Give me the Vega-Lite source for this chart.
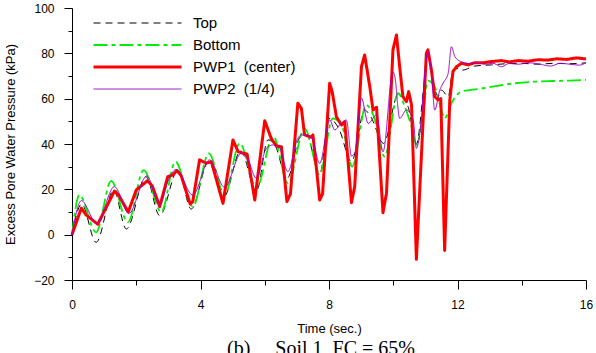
{
  "$schema": "https://vega.github.io/schema/vega-lite/v6.json",
  "autosize": {"type": "none"},
  "padding": {"left": 72, "top": 8, "right": 10, "bottom": 73},
  "width": 514,
  "height": 272,
  "background": "white",
  "config": {
    "view": {"stroke": null},
    "font": "Liberation Sans",
    "axis": {"grid": false, "domainColor": "black", "tickColor": "black", "labelColor": "black", "titleColor": "black", "labelFont": "Liberation Sans", "titleFont": "Liberation Sans", "labelFontSize": 12, "titleFontSize": 13, "titleFontWeight": "normal", "domainWidth": 1, "tickWidth": 1}
  },
  "title": {"text": "(b)\u00a0\u00a0\u00a0\u00a0\u00a0Soil 1, FC = 65%", "orient": "bottom", "font": "Liberation Serif", "fontSize": 20, "fontWeight": "normal", "color": "black", "offset": 4, "dx": -8, "anchor": "middle"},
  "data": {"values": [
    {"s":"Top","t":0,"v":0},{"s":"Top","t":0.3,"v":13.5},{"s":"Top","t":0.75,"v":-3.4},{"s":"Top","t":1.3,"v":19.7},{"s":"Top","t":1.69,"v":2.5},{"s":"Top","t":2.3,"v":25.6},{"s":"Top","t":2.73,"v":8.4},{"s":"Top","t":3.3,"v":28.5},{"s":"Top","t":3.71,"v":11.3},{"s":"Top","t":4.25,"v":32},{"s":"Top","t":4.72,"v":16.5},{"s":"Top","t":5.25,"v":37},{"s":"Top","t":5.74,"v":19},{"s":"Top","t":6.1,"v":41.8},{"s":"Top","t":6.3,"v":40},{"s":"Top","t":6.7,"v":24.9},{"s":"Top","t":7.1,"v":43},{"s":"Top","t":7.3,"v":44},{"s":"Top","t":7.71,"v":26.3},{"s":"Top","t":8.0,"v":51.3},{"s":"Top","t":8.3,"v":47},{"s":"Top","t":8.7,"v":32.2},{"s":"Top","t":9.11,"v":55},{"s":"Top","t":9.3,"v":52},{"s":"Top","t":9.7,"v":40.3},{"s":"Top","t":10.15,"v":61.6},{"s":"Top","t":10.46,"v":56.5},{"s":"Top","t":10.72,"v":40},{"s":"Top","t":11.03,"v":72.6},{"s":"Top","t":11.1,"v":74},{"s":"Top","t":11.4,"v":60.9},{"s":"Top","t":11.5,"v":63.8},{"s":"Top","t":11.71,"v":60.9},{"s":"Top","t":11.86,"v":72.6},{"s":"Top","t":12.07,"v":73.4},{"s":"Top","t":12.15,"v":72.6},{"s":"Top","t":12.54,"v":74.4},{"s":"Top","t":13.06,"v":74.9},{"s":"Top","t":13.5,"v":75.4},{"s":"Top","t":14,"v":75.6},{"s":"Top","t":14.5,"v":75.2},{"s":"Top","t":15,"v":75.6},{"s":"Top","t":15.5,"v":75.4},{"s":"Top","t":16,"v":75.8},
    {"s":"Bottom","t":0,"v":0},{"s":"Bottom","t":0.23,"v":17.5},{"s":"Bottom","t":0.75,"v":1},{"s":"Bottom","t":1.22,"v":23.7},{"s":"Bottom","t":1.74,"v":5.5},{"s":"Bottom","t":2.23,"v":28.5},{"s":"Bottom","t":2.78,"v":10},{"s":"Bottom","t":3.22,"v":32.2},{"s":"Bottom","t":3.76,"v":12.4},{"s":"Bottom","t":4.26,"v":35.9},{"s":"Bottom","t":4.75,"v":17.5},{"s":"Bottom","t":5.22,"v":40.3},{"s":"Bottom","t":5.74,"v":20.5},{"s":"Bottom","t":6.26,"v":43.5},{"s":"Bottom","t":6.72,"v":22.7},{"s":"Bottom","t":7.24,"v":46.9},{"s":"Bottom","t":7.71,"v":27.1},{"s":"Bottom","t":8.12,"v":51.3},{"s":"Bottom","t":8.4,"v":48},{"s":"Bottom","t":8.72,"v":30},{"s":"Bottom","t":9.16,"v":57.2},{"s":"Bottom","t":9.4,"v":52},{"s":"Bottom","t":9.73,"v":34.4},{"s":"Bottom","t":10.15,"v":62.4},{"s":"Bottom","t":10.36,"v":56.5},{"s":"Bottom","t":10.57,"v":47.6},{"s":"Bottom","t":10.72,"v":39.6},{"s":"Bottom","t":10.93,"v":53.6},{"s":"Bottom","t":11.08,"v":68},{"s":"Bottom","t":11.29,"v":65.3},{"s":"Bottom","t":11.5,"v":55},{"s":"Bottom","t":11.6,"v":51.3},{"s":"Bottom","t":11.81,"v":58},{"s":"Bottom","t":12.12,"v":63.1},{"s":"Bottom","t":12.38,"v":63.8},{"s":"Bottom","t":12.8,"v":64.6},{"s":"Bottom","t":13.37,"v":66},{"s":"Bottom","t":13.8,"v":66.8},{"s":"Bottom","t":14.4,"v":67.5},{"s":"Bottom","t":15,"v":67.8},{"s":"Bottom","t":15.5,"v":68},{"s":"Bottom","t":16,"v":68.3},
    {"s":"PWP1","t":0,"v":0},{"s":"PWP1","t":0.29,"v":11.7},{"s":"PWP1","t":0.44,"v":8.7},{"s":"PWP1","t":0.8,"v":4.6},{"s":"PWP1","t":1.32,"v":19.2},{"s":"PWP1","t":1.45,"v":17.5},{"s":"PWP1","t":1.75,"v":10},{"s":"PWP1","t":2.0,"v":19.7},{"s":"PWP1","t":2.35,"v":23.8},{"s":"PWP1","t":2.5,"v":21.5},{"s":"PWP1","t":2.73,"v":12.4},{"s":"PWP1","t":2.98,"v":25.6},{"s":"PWP1","t":3.14,"v":26.3},{"s":"PWP1","t":3.27,"v":28.3},{"s":"PWP1","t":3.4,"v":26},{"s":"PWP1","t":3.68,"v":13.5},{"s":"PWP1","t":3.76,"v":14.6},{"s":"PWP1","t":3.97,"v":33},{"s":"PWP1","t":4.18,"v":31.5},{"s":"PWP1","t":4.34,"v":32.2},{"s":"PWP1","t":4.7,"v":13.8},{"s":"PWP1","t":5.01,"v":41.8},{"s":"PWP1","t":5.17,"v":36.6},{"s":"PWP1","t":5.3,"v":36},{"s":"PWP1","t":5.45,"v":35.6},{"s":"PWP1","t":5.69,"v":15.3},{"s":"PWP1","t":6.0,"v":50.3},{"s":"PWP1","t":6.2,"v":42.5},{"s":"PWP1","t":6.36,"v":39.1},{"s":"PWP1","t":6.52,"v":38.8},{"s":"PWP1","t":6.69,"v":14.6},{"s":"PWP1","t":6.8,"v":18},{"s":"PWP1","t":7.03,"v":58},{"s":"PWP1","t":7.14,"v":55.7},{"s":"PWP1","t":7.24,"v":44},{"s":"PWP1","t":7.45,"v":43},{"s":"PWP1","t":7.5,"v":44},{"s":"PWP1","t":7.71,"v":15.3},{"s":"PWP1","t":7.8,"v":18},{"s":"PWP1","t":8.02,"v":66.8},{"s":"PWP1","t":8.1,"v":63},{"s":"PWP1","t":8.23,"v":52},{"s":"PWP1","t":8.39,"v":48.4},{"s":"PWP1","t":8.49,"v":49.8},{"s":"PWP1","t":8.7,"v":14.1},{"s":"PWP1","t":8.8,"v":21.2},{"s":"PWP1","t":9.01,"v":74.1},{"s":"PWP1","t":9.11,"v":79.3},{"s":"PWP1","t":9.27,"v":65.3},{"s":"PWP1","t":9.37,"v":55},{"s":"PWP1","t":9.48,"v":56.2},{"s":"PWP1","t":9.68,"v":9.7},{"s":"PWP1","t":9.79,"v":18.3},{"s":"PWP1","t":9.99,"v":81.5},{"s":"PWP1","t":10.1,"v":88.1},{"s":"PWP1","t":10.2,"v":74.1},{"s":"PWP1","t":10.3,"v":60.9},{"s":"PWP1","t":10.41,"v":58.7},{"s":"PWP1","t":10.48,"v":63.1},{"s":"PWP1","t":10.57,"v":57.2},{"s":"PWP1","t":10.72,"v":-10.9},{"s":"PWP1","t":10.88,"v":35.9},{"s":"PWP1","t":11.03,"v":80},{"s":"PWP1","t":11.08,"v":81.5},{"s":"PWP1","t":11.19,"v":72.6},{"s":"PWP1","t":11.29,"v":60.9},{"s":"PWP1","t":11.4,"v":59.4},{"s":"PWP1","t":11.48,"v":60},{"s":"PWP1","t":11.6,"v":-7},{"s":"PWP1","t":11.76,"v":59.4},{"s":"PWP1","t":11.86,"v":72},{"s":"PWP1","t":11.97,"v":74.1},{"s":"PWP1","t":12.12,"v":75.6},{"s":"PWP1","t":12.33,"v":74.9},{"s":"PWP1","t":12.54,"v":75.9},{"s":"PWP1","t":12.8,"v":75.8},{"s":"PWP1","t":13.0,"v":76.3},{"s":"PWP1","t":13.37,"v":76.8},{"s":"PWP1","t":13.6,"v":76.2},{"s":"PWP1","t":13.9,"v":76.8},{"s":"PWP1","t":14.2,"v":76.5},{"s":"PWP1","t":14.5,"v":77.2},{"s":"PWP1","t":14.8,"v":77},{"s":"PWP1","t":15.1,"v":77.6},{"s":"PWP1","t":15.4,"v":77.3},{"s":"PWP1","t":15.7,"v":78},{"s":"PWP1","t":16,"v":77.5},
    {"s":"PWP2","t":0,"v":0},{"s":"PWP2","t":0.29,"v":15},{"s":"PWP2","t":0.77,"v":5},{"s":"PWP2","t":1.32,"v":21.2},{"s":"PWP2","t":1.77,"v":9.4},{"s":"PWP2","t":2.33,"v":25.9},{"s":"PWP2","t":2.73,"v":13.1},{"s":"PWP2","t":3.0,"v":24},{"s":"PWP2","t":3.24,"v":28.8},{"s":"PWP2","t":3.76,"v":17.5},{"s":"PWP2","t":4.28,"v":33},{"s":"PWP2","t":4.75,"v":20.9},{"s":"PWP2","t":5.27,"v":35.9},{"s":"PWP2","t":5.45,"v":34},{"s":"PWP2","t":5.74,"v":24.9},{"s":"PWP2","t":6.05,"v":38.1},{"s":"PWP2","t":6.26,"v":39.6},{"s":"PWP2","t":6.45,"v":38.5},{"s":"PWP2","t":6.72,"v":27.8},{"s":"PWP2","t":7.03,"v":42.5},{"s":"PWP2","t":7.14,"v":44},{"s":"PWP2","t":7.45,"v":43},{"s":"PWP2","t":7.71,"v":31.5},{"s":"PWP2","t":8.02,"v":50.6},{"s":"PWP2","t":8.18,"v":46.2},{"s":"PWP2","t":8.33,"v":48.4},{"s":"PWP2","t":8.54,"v":50.6},{"s":"PWP2","t":8.7,"v":34.7},{"s":"PWP2","t":8.8,"v":36},{"s":"PWP2","t":9.01,"v":60.2},{"s":"PWP2","t":9.22,"v":49.1},{"s":"PWP2","t":9.48,"v":52.8},{"s":"PWP2","t":9.68,"v":36.6},{"s":"PWP2","t":9.99,"v":71.9},{"s":"PWP2","t":10.05,"v":69.7},{"s":"PWP2","t":10.2,"v":51.3},{"s":"PWP2","t":10.41,"v":55},{"s":"PWP2","t":10.62,"v":50.6},{"s":"PWP2","t":10.72,"v":38.1},{"s":"PWP2","t":10.8,"v":42},{"s":"PWP2","t":11.08,"v":80.7},{"s":"PWP2","t":11.19,"v":71.2},{"s":"PWP2","t":11.29,"v":55},{"s":"PWP2","t":11.45,"v":63.8},{"s":"PWP2","t":11.55,"v":66.8},{"s":"PWP2","t":11.71,"v":71.2},{"s":"PWP2","t":11.81,"v":82.9},{"s":"PWP2","t":11.92,"v":78.5},{"s":"PWP2","t":12.12,"v":76.3},{"s":"PWP2","t":12.4,"v":75.5},{"s":"PWP2","t":12.64,"v":75.6},{"s":"PWP2","t":12.9,"v":75.2},{"s":"PWP2","t":13.1,"v":75.6},{"s":"PWP2","t":13.37,"v":74.1},{"s":"PWP2","t":13.6,"v":75.5},{"s":"PWP2","t":13.9,"v":75.2},{"s":"PWP2","t":14.2,"v":75.8},{"s":"PWP2","t":14.5,"v":75.4},{"s":"PWP2","t":14.9,"v":74.4},{"s":"PWP2","t":15.2,"v":75.6},{"s":"PWP2","t":15.5,"v":75.2},{"s":"PWP2","t":15.8,"v":74.8},{"s":"PWP2","t":16,"v":75.9}
  ]},
  "encoding": {
    "x": {"field": "t", "type": "quantitative", "scale": {"domain": [0, 16], "nice": false, "zero": false},
      "axis": {"title": "Time (sec.)", "values": [0,2,4,6,8,10,12,14,16], "labelExpr": "datum.value % 4 == 0 ? datum.label : ''", "tickSize": {"condition": {"test": "datum.value % 4 != 0", "value": 5}, "value": 9}, "labelPadding": 10, "titlePadding": 12, "labelFlush": false, "labelOverlap": false}},
    "y": {"field": "v", "type": "quantitative", "scale": {"domain": [-20, 100], "nice": false, "zero": false},
      "axis": {"title": "Excess Pore Water Pressure (kPa)", "values": [-20,-10,0,10,20,30,40,50,60,70,80,90,100], "labelExpr": "datum.value % 20 == 0 ? datum.label : ''", "tickSize": {"condition": {"test": "datum.value % 20 != 0", "value": 4}, "value": 8}, "labelPadding": 10, "titlePadding": 16, "labelOverlap": false}},
    "color": {"field": "s", "type": "nominal", "sort": ["Top","Bottom","PWP1","PWP2"], "scale": {"domain": ["Top","Bottom","PWP1","PWP2"], "range": ["#000000","#00ee00","#ff0000","#9900cc"]},
      "legend": {"title": null, "orient": "none", "legendX": 20, "legendY": 4, "padding": 0, "symbolType": "stroke", "symbolSize": 7744, "clipHeight": 22, "rowPadding": 0, "labelOffset": 10, "labelFont": "Liberation Sans", "labelFontSize": 15, "labelColor": "black", "labelLimit": 300,
        "labelExpr": "datum.label == 'PWP1' ? 'PWP1\u00a0\u00a0(center)' : datum.label == 'PWP2' ? 'PWP2\u00a0\u00a0(1/4)' : datum.label"}},
    "strokeDash": {"field": "s", "type": "nominal", "sort": ["Top","Bottom","PWP1","PWP2"], "scale": {"domain": ["Top","Bottom","PWP1","PWP2"], "range": [[7,5],[14,4,4,4],[1,0],[1,0]]}},
    "strokeWidth": {"field": "s", "type": "nominal", "sort": ["Top","Bottom","PWP1","PWP2"], "scale": {"type": "ordinal", "domain": ["Top","Bottom","PWP1","PWP2"], "range": [1, 1.8, 3, 1]}}
  },
  "layer": [
    {"transform": [{"filter": "datum.s == 'Top' || datum.s == 'Bottom'"}], "mark": {"type": "line", "interpolate": "monotone", "strokeJoin": "round", "strokeCap": "butt"}},
    {"transform": [{"filter": "datum.s == 'PWP1'"}], "mark": {"type": "line", "interpolate": "linear", "strokeJoin": "round", "strokeCap": "butt"}},
    {"transform": [{"filter": "datum.s == 'PWP2'"}], "mark": {"type": "line", "interpolate": "monotone", "strokeJoin": "round", "strokeCap": "butt"}}
  ]
}
